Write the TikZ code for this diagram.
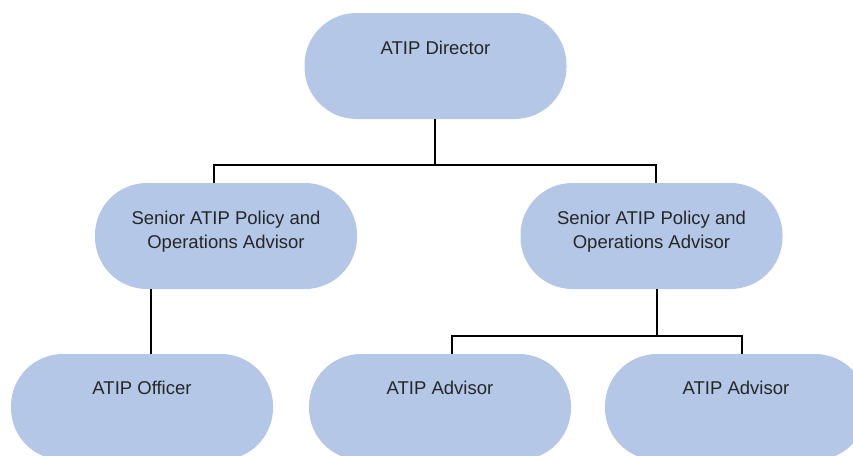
\documentclass[tikz,border=0pt]{standalone}
\usepackage{fontspec}
\setmainfont{Liberation Sans}
\definecolor{boxfill}{HTML}{B4C7E7}
\definecolor{txtcol}{HTML}{262626}
\begin{document}
\begin{tikzpicture}[x=1pt,y=-1pt,
  orgbox/.style={draw=none, fill=boxfill, rounded corners=52pt, minimum width=262pt, minimum height=106pt, inner sep=0pt},
  lbl/.style={text=txtcol, font=\fontsize{18.5}{24}\selectfont, align=center, inner sep=0pt},
  link/.style={draw=black, line width=2.2pt}]
\useasboundingbox (0,0) rectangle (853,455);
\begin{scope}
\clip (0,0) rectangle (853,455);
\node[orgbox] (dir) at (435.5,66) {};
\node[orgbox] (sl) at (226,236) {};
\node[orgbox] (sr) at (651.5,236) {};
\node[orgbox] (off) at (142,407) {};
\node[orgbox] (a1) at (440,407) {};
\node[orgbox] (a2) at (736,407) {};
\end{scope}
\node[lbl] (tdir) at (435.5,48) {ATIP Director};
\node[lbl] (tsl) at (226,232) {Senior ATIP Policy and\\Operations Advisor};
\node[lbl] (tsr) at (651.5,232) {Senior ATIP Policy and\\Operations Advisor};
\node[lbl] (toff) at (142,388) {ATIP Officer};
\node[lbl] (ta1) at (440,388) {ATIP Advisor};
\node[lbl] (ta2) at (736,388) {ATIP Advisor};
\coordinate (j1) at (435,165);
\coordinate (j2) at (657,336);
\draw[link] (dir.south -| j1) -- (j1);
\draw[link] (j1) -| ([xshift=-12pt]sl.north);
\draw[link] (j1) -| ([xshift=4.5pt]sr.north);
\draw[link] ([xshift=-75pt]sl.south) -- ([xshift=9pt]off.north);
\draw[link] (sr.south -| j2) -- (j2);
\draw[link] (j2) -| ([xshift=12pt]a1.north);
\draw[link] (j2) -| ([xshift=6pt]a2.north);
\end{tikzpicture}
\end{document}
